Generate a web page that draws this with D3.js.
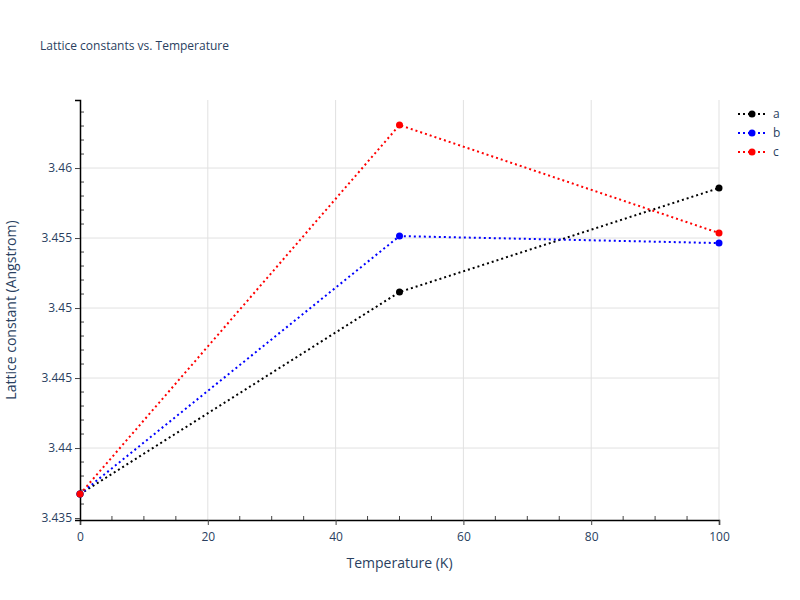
<!DOCTYPE html>
<html>
<head>
<meta charset="utf-8">
<script src="https://cdn.jsdelivr.net/npm/d3@7"></script>
<style>
  body { margin: 0; background: #fff; }
  text { font-family: "Open Sans", Arial, sans-serif; }
</style>
</head>
<body>
<div id="chart"></div>
<script>
var temps = [0, 50, 100];
var seriesNames = ["a", "b", "c"];
var seriesColors = ["black", "blue", "red"];
var aValues = [3.43671, 3.45114, 3.45857];
var bValues = [3.43671, 3.45514, 3.45464];
var cValues = [3.43671, 3.46307, 3.45536];
var xTicks = [0, 20, 40, 60, 80, 100];
var yTicks = [3.435, 3.44, 3.445, 3.45, 3.455, 3.46];

var allValues = [aValues, bValues, cValues];

var width = 800, height = 600;
var plotLeft = 80, plotRight = 719, plotTop = 100, plotBottom = 520;

var svg = d3.select("#chart").append("svg")
  .attr("width", width).attr("height", height);

var x = d3.scaleLinear().domain([0, 100]).range([plotLeft, plotRight]);
var y = d3.scaleLinear().domain([3.43486, 3.46486]).range([plotBottom, plotTop]);

// grid
svg.append("g").selectAll("line").data(xTicks.slice(1)).enter().append("line")
  .attr("x1", d => x(d)).attr("x2", d => x(d))
  .attr("y1", plotTop).attr("y2", plotBottom)
  .attr("stroke", "#e1e1e1").attr("stroke-width", 1);
svg.append("g").selectAll("line").data(yTicks.slice(1)).enter().append("line")
  .attr("x1", plotLeft).attr("x2", plotRight)
  .attr("y1", d => y(d)).attr("y2", d => y(d))
  .attr("stroke", "#e1e1e1").attr("stroke-width", 1);

// minor ticks (inside)
var xMinor = d3.range(5, 100, 5).filter(d => d % 20 != 0);
svg.append("g").selectAll("line").data(xMinor).enter().append("line")
  .attr("x1", d => x(d)).attr("x2", d => x(d))
  .attr("y1", plotBottom).attr("y2", plotBottom - 4)
  .attr("stroke", "#444");
var yMinor = d3.range(3.436, 3.465, 0.001).filter(d => Math.abs(Math.round(d * 200) - d * 200) > 0.01);
svg.append("g").selectAll("line").data(yMinor).enter().append("line")
  .attr("x1", plotLeft).attr("x2", plotLeft + 4)
  .attr("y1", d => y(d)).attr("y2", d => y(d))
  .attr("stroke", "#444");

// axes
var xAxis = svg.append("g").attr("transform", "translate(0," + plotBottom + ")")
  .call(d3.axisBottom(x).tickValues(xTicks).tickSize(5).tickFormat(d3.format("d")));
var yAxis = svg.append("g").attr("transform", "translate(" + plotLeft + ",0)")
  .call(d3.axisLeft(y).tickValues(yTicks).tickSize(5).tickFormat(d => +d.toFixed(3)));
[xAxis, yAxis].forEach(function (g) {
  g.select(".domain").attr("stroke", "black").attr("stroke-width", 1.5);
  g.selectAll(".tick line").attr("stroke", "#444");
  g.selectAll("text").attr("fill", "#2a3f5f").style("font-size", "12px");
});
xAxis.selectAll("text").attr("dy", "1.1em");

// lines
var line = d3.line().x((d, i) => x(temps[i])).y(d => y(d));
allValues.forEach(function (vals, k) {
  svg.append("path").datum(vals)
    .attr("d", line).attr("fill", "none")
    .attr("stroke", seriesColors[k]).attr("stroke-width", 2)
    .attr("stroke-dasharray", "2,3");
  svg.append("g").selectAll("circle").data(vals).enter().append("circle")
    .attr("cx", (d, i) => x(temps[i])).attr("cy", d => y(d))
    .attr("r", 3.5).attr("fill", seriesColors[k]);
});

// legend
seriesNames.forEach(function (name, k) {
  var ly = 114 + k * 19;
  svg.append("line").attr("x1", 738).attr("x2", 766).attr("y1", ly).attr("y2", ly)
    .attr("stroke", seriesColors[k]).attr("stroke-width", 2).attr("stroke-dasharray", "2,3");
  svg.append("circle").attr("cx", 752).attr("cy", ly).attr("r", 3.5).attr("fill", seriesColors[k]);
  svg.append("text").attr("x", 773).attr("y", ly + 4).text(name)
    .attr("fill", "#2a3f5f").style("font-size", "12px");
});

// titles
svg.append("text").attr("x", 40).attr("y", 50).text("Lattice constants vs. Temperature")
  .attr("fill", "#2a3f5f").style("font-size", "12px");
svg.append("text").attr("x", (plotLeft + plotRight) / 2).attr("y", 568).attr("text-anchor", "middle")
  .text("Temperature (K)").attr("fill", "#2a3f5f").style("font-size", "14px");
svg.append("text").attr("transform", "translate(16," + (plotTop + plotBottom) / 2 + ") rotate(-90)")
  .attr("text-anchor", "middle").text("Lattice constant (Angstrom)")
  .attr("fill", "#2a3f5f").style("font-size", "14px");
</script>
</body>
</html>
